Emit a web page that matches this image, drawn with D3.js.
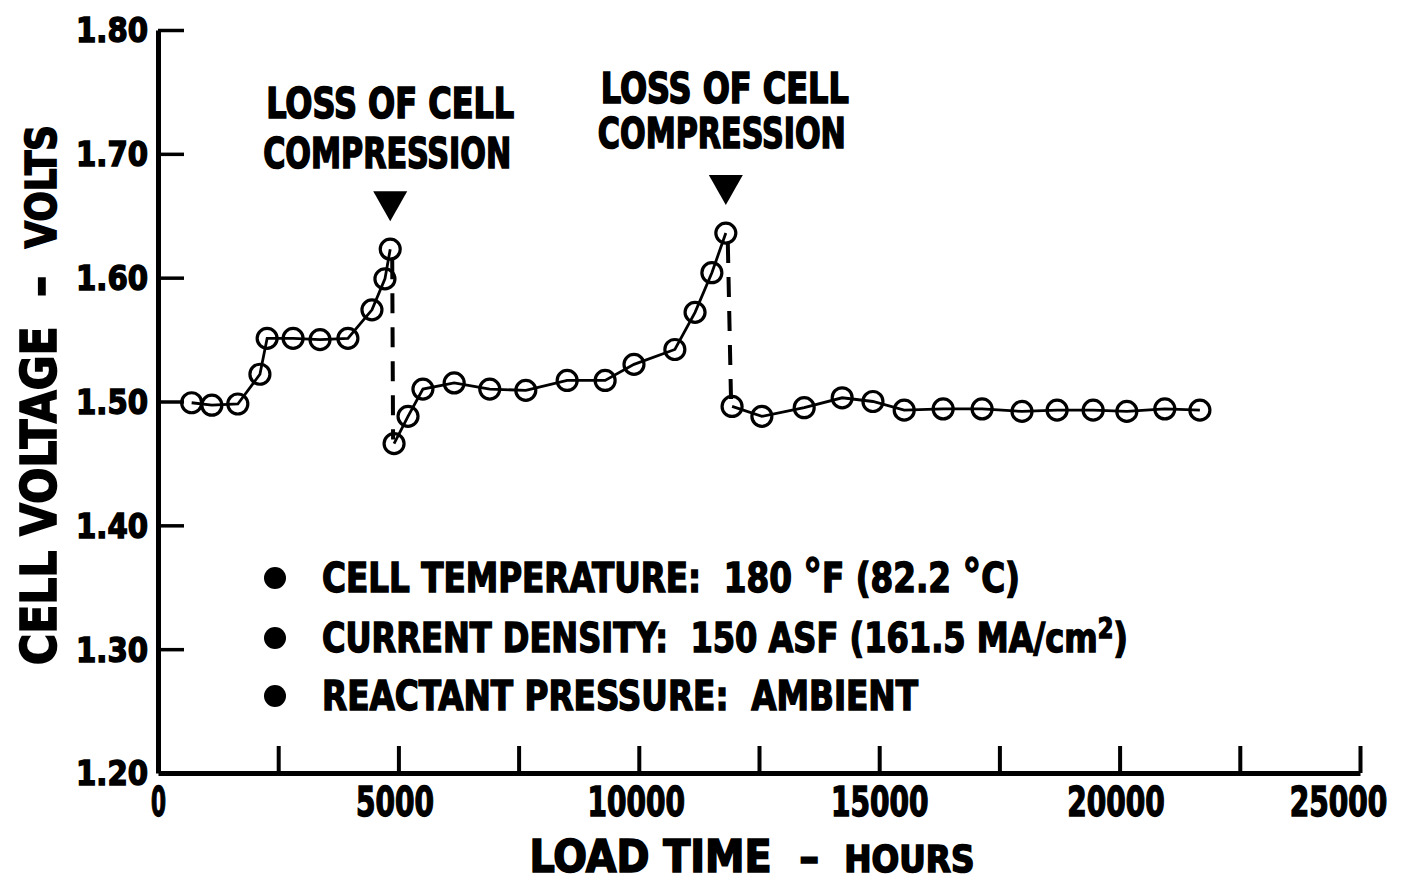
<!DOCTYPE html>
<html>
<head>
<meta charset="utf-8">
<script src="https://cdn.jsdelivr.net/npm/d3@7"></script>
<style>
  html, body { margin: 0; padding: 0; background: #fff; }
  svg { display: block; }
  text { white-space: pre; }
</style>
</head>
<body>
<svg id="chart" width="1402" height="883"></svg>
<script>
// ---------------- DATA ----------------
// Load time (hours) and cell voltage (volts), three run segments
const seg1Hours = [700, 1120, 1660, 2120, 2270, 2810, 3370, 3950, 4450, 4720, 4830];
const seg1Volts = [1.499, 1.497, 1.498, 1.522, 1.551, 1.551, 1.550, 1.551, 1.574, 1.599, 1.623];

const seg2Hours = [4910, 5200, 5510, 6160, 6900, 7650, 8510, 9300, 9900, 10750, 11170, 11520, 11810];
const seg2Volts = [1.466, 1.488, 1.510, 1.515, 1.510, 1.509, 1.517, 1.517, 1.530, 1.542, 1.572, 1.604, 1.636];

const seg3Hours = [11940, 12560, 13440, 14230, 14870, 15520, 16330, 17140, 17970, 18700, 19450, 20150, 20940, 21670];
const seg3Volts = [1.496, 1.488, 1.495, 1.503, 1.500, 1.493, 1.494, 1.494, 1.492, 1.493, 1.493, 1.492, 1.494, 1.493];

const yTickValues = [1.20, 1.30, 1.40, 1.50, 1.60, 1.70, 1.80];
const xTickMarks = [2500, 5000, 7500, 10000, 12500, 15000, 17500, 20000, 22500, 25000];
const xTickLabels = [0, 5000, 10000, 15000, 20000, 25000];

const annotationLines = ["LOSS OF CELL", "COMPRESSION"];
const legendItems = [
  ["CELL TEMPERATURE:  180 ", "°", "F (82.2 ", "°", "C)"],
  ["CURRENT DENSITY:  150 ASF (161.5 MA/cm", "2", ")"],
  ["REACTANT PRESSURE:  AMBIENT"]
];

// ---------------- DRAW ----------------
const svg = d3.select("#chart");
const FONT = "'DejaVu Sans Condensed', 'Liberation Sans Narrow', sans-serif";

const x = d3.scaleLinear().domain([0, 25000]).range([158, 1360]);
const y = d3.scaleLinear().domain([1.2, 1.8]).range([773, 30]);

// Y axis
const yAxis = d3.axisLeft(y)
  .tickValues(yTickValues)
  .tickFormat(d3.format(".2f"))
  .tickSizeInner(-26)
  .tickSizeOuter(0)
  .tickPadding(8);
const gy = svg.append("g").attr("transform", "translate(158,0)").call(yAxis);
gy.select(".domain").attr("stroke", "#000").attr("stroke-width", 5);
gy.selectAll(".tick line").attr("stroke", "#000").attr("stroke-width", 3.5);
gy.selectAll(".tick").filter(d => d === 1.2).select("line").remove();
gy.selectAll(".tick text")
  .attr("font-family", FONT).attr("font-weight", "bold").attr("font-size", 34)
  .attr("fill", "#000").attr("stroke", "#000").attr("stroke-width", 1.4)
  .attr("textLength", 72).attr("lengthAdjust", "spacingAndGlyphs")
  .attr("x", -10).attr("dy", "0.35em");

// X axis: tick marks (upward)
const xAxisMarks = d3.axisBottom(x)
  .tickValues(xTickMarks)
  .tickFormat("")
  .tickSizeInner(-27)
  .tickSizeOuter(0);
const gxm = svg.append("g").attr("transform", "translate(0,773)").call(xAxisMarks);
gxm.select(".domain").attr("stroke", "#000").attr("stroke-width", 5);
gxm.selectAll(".tick line").attr("stroke", "#000").attr("stroke-width", 4);

// X axis: labels
const xLabelShift = { 0: 0, 5000: -4, 10000: -3, 15000: 0, 20000: -4, 25000: -22 };
const xAxisLabels = d3.axisBottom(x)
  .tickValues(xTickLabels)
  .tickFormat(d3.format("d"))
  .tickSize(0)
  .tickPadding(14);
const gxl = svg.append("g").attr("transform", "translate(0,773)").call(xAxisLabels);
gxl.select(".domain").remove();
gxl.selectAll(".tick text")
  .attr("font-family", FONT).attr("font-weight", "bold").attr("font-size", 40)
  .attr("fill", "#000").attr("stroke", "#000").attr("stroke-width", 1.4)
  .attr("dy", "0.72em")
  .attr("dx", d => xLabelShift[d] || 0)
  .each(function(d) {
    const s = String(d);
    d3.select(this).attr("textLength", s.length === 1 ? 15 : s.length * 19.5)
      .attr("lengthAdjust", "spacingAndGlyphs");
  });

// Axis titles
const ytitle = svg.append("text")
  .attr("transform", "translate(56,395) rotate(-90)")
  .attr("text-anchor", "middle")
  .attr("font-family", FONT).attr("font-weight", "bold")
  .attr("fill", "#000").attr("stroke", "#000").attr("stroke-width", 1.6)
  .attr("textLength", 540).attr("lengthAdjust", "spacingAndGlyphs");
ytitle.append("tspan").attr("font-size", 50).text("CELL VOLTAGE  – ");
ytitle.append("tspan").attr("font-size", 42).text(" VOLTS");

const xtitle = svg.append("text")
  .attr("x", 752).attr("y", 872)
  .attr("text-anchor", "middle")
  .attr("font-family", FONT).attr("font-weight", "bold")
  .attr("fill", "#000").attr("stroke", "#000").attr("stroke-width", 1.6)
  .attr("textLength", 445).attr("lengthAdjust", "spacingAndGlyphs");
xtitle.append("tspan").attr("font-size", 45).text("LOAD TIME  – ");
xtitle.append("tspan").attr("font-size", 37).text(" HOURS");

// Series lines
const segments = [
  seg1Hours.map((h, i) => [h, seg1Volts[i]]),
  seg2Hours.map((h, i) => [h, seg2Volts[i]]),
  seg3Hours.map((h, i) => [h, seg3Volts[i]])
];
const line = d3.line().x(d => x(d[0])).y(d => y(d[1]));

segments.forEach(seg => {
  svg.append("path").datum(seg).attr("d", line)
    .attr("fill", "none").attr("stroke", "#000").attr("stroke-width", 2.8);
});

// Dashed drops at loss of compression
for (let i = 0; i < segments.length - 1; i++) {
  const a = segments[i][segments[i].length - 1];
  const b = segments[i + 1][0];
  svg.append("line")
    .attr("x1", x(a[0]) + 2).attr("y1", y(a[1]) + 10)
    .attr("x2", x(b[0]) - 1).attr("y2", y(b[1]) - 4)
    .attr("stroke", "#000").attr("stroke-width", 4)
    .attr("stroke-dasharray", "20,14");
}

// Markers (open circles)
segments.forEach(seg => {
  svg.append("g").selectAll("circle").data(seg).join("circle")
    .attr("cx", d => x(d[0])).attr("cy", d => y(d[1])).attr("r", 10)
    .attr("fill", "none").attr("stroke", "#000").attr("stroke-width", 3.2);
});

// Annotations: triangles + text above each peak
const peaks = [segments[0][segments[0].length - 1], segments[1][segments[1].length - 1]];
const annoText = [
  { dx: 0, y1: 118, y2: 168 },
  { dx: -1, y1: 103, y2: 148 }
];
peaks.forEach((p, i) => {
  const px = x(p[0]), py = y(p[1]);
  const tipY = py - 28;
  svg.append("path")
    .attr("d", `M${px - 17},${tipY - 30} L${px + 17},${tipY - 30} L${px},${tipY} Z`)
    .attr("fill", "#000");
  const a = annoText[i];
  svg.append("text").attr("x", px + a.dx).attr("y", a.y1)
    .attr("text-anchor", "middle")
    .attr("font-family", FONT).attr("font-weight", "bold").attr("font-size", 42)
    .attr("fill", "#000").attr("stroke", "#000").attr("stroke-width", 1.6)
    .attr("textLength", 248).attr("lengthAdjust", "spacingAndGlyphs")
    .text(annotationLines[0]);
  svg.append("text").attr("x", px + a.dx - 3).attr("y", a.y2)
    .attr("text-anchor", "middle")
    .attr("font-family", FONT).attr("font-weight", "bold").attr("font-size", 42)
    .attr("fill", "#000").attr("stroke", "#000").attr("stroke-width", 1.6)
    .attr("textLength", 248).attr("lengthAdjust", "spacingAndGlyphs")
    .text(annotationLines[1]);
});

// Legend-like notes
const legendY = [592, 652, 710];
const legendLen = [698, 806, 596];
legendItems.forEach((parts, i) => {
  svg.append("circle").attr("cx", 275).attr("cy", legendY[i] - 14).attr("r", 11).attr("fill", "#000");
  const t = svg.append("text").attr("x", 322).attr("y", legendY[i])
    .attr("font-family", FONT).attr("font-weight", "bold").attr("font-size", 40)
    .attr("fill", "#000").attr("stroke", "#000").attr("stroke-width", 1.4)
    .attr("textLength", legendLen[i]).attr("lengthAdjust", "spacingAndGlyphs");
  parts.forEach((s, j) => {
    const ts = t.append("tspan").text(s);
    if (s === "°") ts.attr("font-size", 46);
    else if (s === "2") ts.attr("font-size", 28).attr("dy", -14);
    else if (j > 0 && parts[j - 1] === "2") ts.attr("dy", 14);
  });
});
</script>
</body>
</html>
